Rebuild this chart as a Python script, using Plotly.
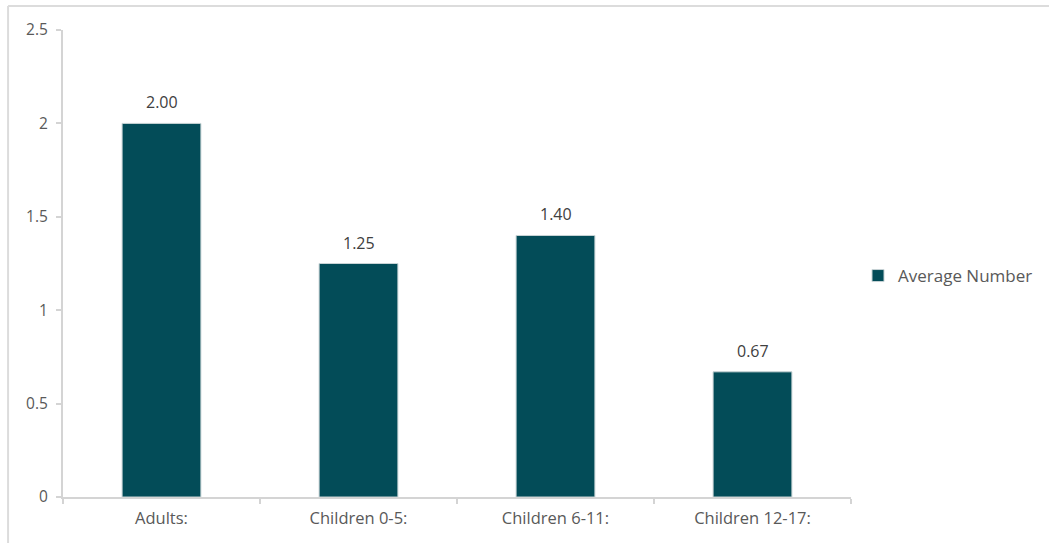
import plotly.graph_objects as go

# Household composition: average number of people per age group
categories = ["Adults:", "Children 0-5:", "Children 6-11:", "Children 12-17:"]
average_number = [2.00, 1.25, 1.40, 0.67]
y_ticks = [0, 0.5, 1, 1.5, 2, 2.5]
y_tick_labels = ["0", "0.5", "1", "1.5", "2", "2.5"]

W, H = 1049, 543
L, R, T, B = 63, 197, 30, 46
plot_w = W - L - R
plot_h = H - T - B

def px_x(px):
    return (px - L) / plot_w

def px_y(py):
    return (H - B - py) / plot_h

bar_color = "#034c58"
axis_color = "#d4d4d4"
text_color = "#595959"
font_family = "'Open Sans', Lato, sans-serif"

fig = go.Figure()
fig.add_trace(go.Bar(
    x=categories,
    y=average_number,
    name="Average Number",
    marker=dict(color=bar_color, line=dict(color="#c8d3d5", width=1)),
    showlegend=True,
))

# value labels above each bar
value_labels = [
    dict(x=c, y=v, text=f"{v:.2f}", xref="x", yref="y",
         yanchor="bottom", yshift=8, showarrow=False,
         font=dict(size=16, color="#404040", family=font_family))
    for c, v in zip(categories, average_number)
]

fig.update_layout(
    width=W, height=H,
    margin=dict(l=L, r=R, t=T, b=B, pad=0),
    paper_bgcolor="white",
    plot_bgcolor="white",
    font=dict(family=font_family, size=15, color=text_color),
    bargap=0.6,
    showlegend=True,
    legend=dict(
        x=px_x(858), y=px_y(276), xanchor="left", yanchor="middle",
        font=dict(size=17, color=text_color),
        itemwidth=30, bgcolor="rgba(0,0,0,0)",
    ),
    xaxis=dict(
        type="category",
        showline=True, linecolor=axis_color, linewidth=2,
        ticks="outside", tickson="boundaries", ticklen=5,
        tickcolor=axis_color, tickwidth=1.5,
        showgrid=False, zeroline=False,
        ticklabelstandoff=5,
        tickfont=dict(size=16.5, color=text_color),
    ),
    yaxis=dict(
        range=[0, 2.5],
        tickvals=y_ticks, ticktext=y_tick_labels,
        showline=True, linecolor=axis_color, linewidth=2,
        ticks="outside", ticklen=5, tickcolor=axis_color, tickwidth=1.5,
        showgrid=False, zeroline=False,
        ticklabelstandoff=5,
        tickfont=dict(size=15.5, color=text_color),
    ),
    shapes=[
        # outer chart frame (top and left edges)
        dict(type="line", xref="paper", yref="paper",
             x0=px_x(8), x1=px_x(W + 5), y0=px_y(6), y1=px_y(6),
             line=dict(color="#dcdcdc", width=2)),
        dict(type="line", xref="paper", yref="paper",
             x0=px_x(8), x1=px_x(8), y0=px_y(6), y1=px_y(H + 5),
             line=dict(color="#dcdcdc", width=2)),
    ],
    annotations=[
        dict(text="Category", xref="paper", yref="paper",
             x=px_x(20), y=px_y(-2), xanchor="left", yanchor="bottom",
             showarrow=False, font=dict(size=15, color=text_color)),
    ] + value_labels,
)

fig.write_html("out.html")
